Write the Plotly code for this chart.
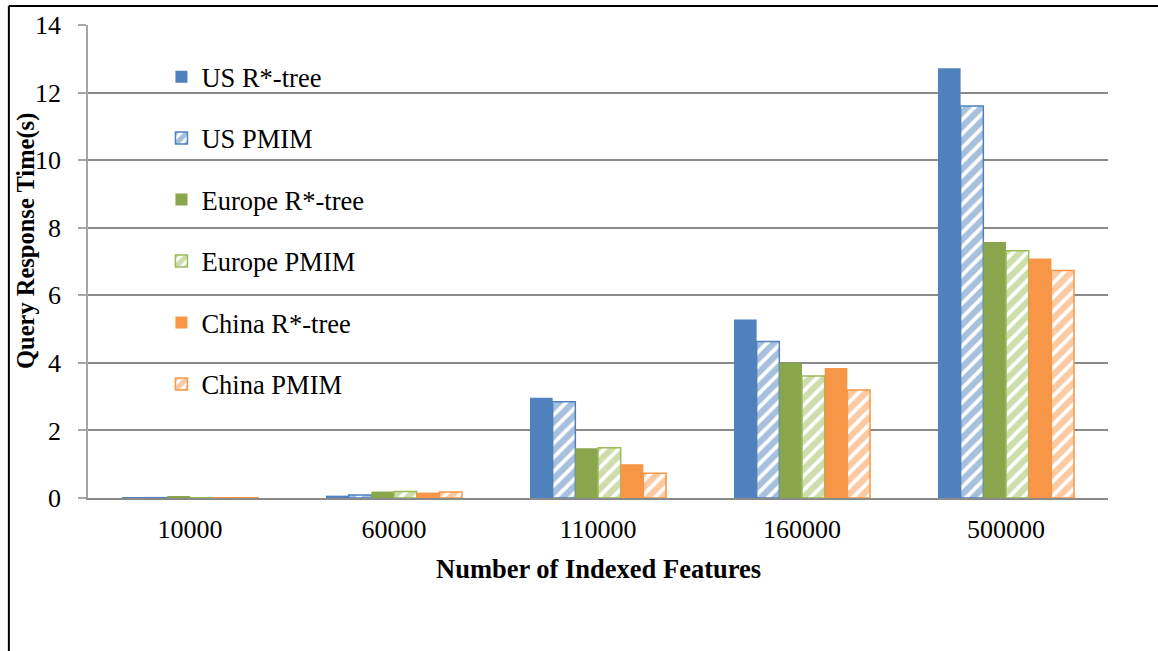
import plotly.graph_objects as go

categories = ["10000", "60000", "110000", "160000", "500000"]
us_rtree = [0.02, 0.07, 2.97, 5.28, 12.72]
us_pmim = [0.01, 0.09, 2.85, 4.63, 11.60]
eu_rtree = [0.03, 0.19, 1.47, 4.00, 7.58]
eu_pmim = [0.01, 0.19, 1.49, 3.61, 7.32]
cn_rtree = [0.02, 0.16, 1.00, 3.85, 7.09]
cn_pmim = [0.01, 0.18, 0.73, 3.20, 6.73]

series = [
    ("US R*-tree", us_rtree, "#4F81BD", False),
    ("US PMIM", us_pmim, "#4F81BD", True),
    ("Europe R*-tree", eu_rtree, "#8AA64C", False),
    ("Europe PMIM", eu_pmim, "#9BBB59", True),
    ("China R*-tree", cn_rtree, "#F79646", False),
    ("China PMIM", cn_pmim, "#F79646", True),
]

FONT = "Liberation Serif, Times New Roman, serif"
fig = go.Figure()
for i, (name, vals, col, hatched) in enumerate(series):
    if hatched:
        marker = dict(
            color="white",
            pattern=dict(shape="/", fgcolor=col, bgcolor="white", size=10, solidity=0.62, fillmode="overlay"),
            line=dict(color=col, width=1.5),
        )
    else:
        marker = dict(color=col, line=dict(color=col, width=0))
    fig.add_trace(go.Bar(x=categories, y=vals, name=name, marker=marker, legendgroup=f"g{i}"))

fig.update_layout(
    width=1158, height=651,
    margin=dict(l=88, r=50, t=25, b=153),
    paper_bgcolor="white", plot_bgcolor="white",
    barmode="group", bargap=0.333, bargroupgap=0,
    font=dict(family=FONT, size=26, color="black"),
    showlegend=True,
    legend=dict(x=0.072, y=0.941, xanchor="left", yanchor="top", bgcolor="rgba(0,0,0,0)",
                tracegroupgap=24, font=dict(family=FONT, size=26.5, color="black")),
)
fig.update_yaxes(range=[0, 14], dtick=2, showgrid=True, gridcolor="#8A8A8A", gridwidth=1.5,
                 showline=True, linecolor="#A6A6A6", linewidth=1.5,
                 ticks="outside", ticklen=8, tickcolor="#A6A6A6", tickwidth=1.5,
                 zeroline=False, ticklabelstandoff=12, tickfont=dict(size=26))
fig.update_xaxes(type="category", showline=True, linecolor="#8A8A8A", linewidth=1.5,
                 ticks="", showgrid=False, ticklabelstandoff=7, tickfont=dict(size=26))

fig.add_annotation(text="<b>Query Response Time(s)</b>", xref="paper", yref="paper",
                   x=(23 - 88) / 1070, y=(498 - 241) / 473, textangle=-90,
                   showarrow=False, xanchor="center", yanchor="middle", font=dict(size=24.5))
fig.add_annotation(text="<b>Number of Indexed Features</b>", xref="paper", yref="paper",
                   x=0.5, y=(498 - 569) / 473, showarrow=False, xanchor="center", yanchor="middle",
                   font=dict(size=26.5))

bx = (5 - 88) / 1070
by = 1 + (25 - 6) / 473
fig.add_shape(type="line", xref="paper", yref="paper", x0=bx, x1=bx, y0=-0.4, y1=by,
              line=dict(color="black", width=2))
fig.add_shape(type="line", xref="paper", yref="paper", x0=bx, x1=1.1, y0=by, y1=by,
              line=dict(color="black", width=2))

fig.write_html("out.html", config={"displayModeBar": False},
               post_script="document.body.style.margin='0px';")
